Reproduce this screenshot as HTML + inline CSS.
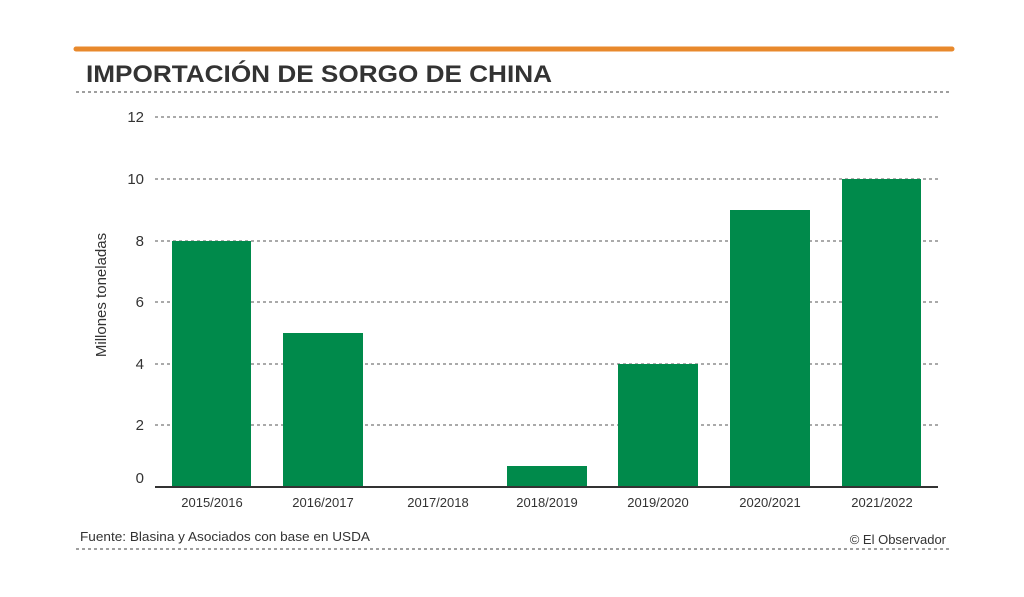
<!DOCTYPE html>
<html><head><meta charset="utf-8"><style>
body{margin:0;background:#fff;}
svg{display:block;}
text{font-family:"Liberation Sans",sans-serif;}
</style></head><body>
<svg width="1024" height="597" viewBox="0 0 1024 597">
<rect width="1024" height="597" fill="#fff"/>
<line x1="76" y1="49" x2="952" y2="49" stroke="#e8892c" stroke-width="5" stroke-linecap="round"/>
<text x="86" y="82" font-size="24" font-weight="bold" fill="#333" textLength="466" lengthAdjust="spacingAndGlyphs">IMPORTACIÓN DE SORGO DE CHINA</text>
<line x1="76" y1="92" x2="952" y2="92" stroke="#666" stroke-width="1.3" stroke-dasharray="3,3"/>
<g stroke="#777" stroke-width="1.2" stroke-dasharray="3,3">
<line x1="155" y1="117" x2="938" y2="117"/>
<line x1="155" y1="179" x2="938" y2="179"/>
<line x1="155" y1="241" x2="938" y2="241"/>
<line x1="155" y1="302" x2="938" y2="302"/>
<line x1="155" y1="364" x2="938" y2="364"/>
<line x1="155" y1="425" x2="938" y2="425"/>
</g>
<g font-size="15" fill="#333" text-anchor="end">
<text x="144" y="122">12</text>
<text x="144" y="184">10</text>
<text x="144" y="246">8</text>
<text x="144" y="307">6</text>
<text x="144" y="369">4</text>
<text x="144" y="430">2</text>
<text x="144" y="483">0</text>
</g>
<text transform="translate(106,295) rotate(-90)" font-size="15" fill="#333" text-anchor="middle">Millones toneladas</text>
<g fill="#008a4b">
<rect x="172" y="241" width="79" height="246"/>
<rect x="283" y="333" width="80" height="154"/>
<rect x="507" y="466" width="80" height="21"/>
<rect x="618" y="364" width="80" height="123"/>
<rect x="730" y="210" width="80" height="277"/>
<rect x="842" y="179" width="79" height="308"/>
</g>
<line x1="155" y1="487" x2="938" y2="487" stroke="#333" stroke-width="2"/>
<g font-size="13" fill="#333" text-anchor="middle">
<text x="212" y="507">2015/2016</text>
<text x="323" y="507">2016/2017</text>
<text x="438" y="507">2017/2018</text>
<text x="547" y="507">2018/2019</text>
<text x="658" y="507">2019/2020</text>
<text x="770" y="507">2020/2021</text>
<text x="882" y="507">2021/2022</text>
</g>
<text x="80" y="541" font-size="13" fill="#333" textLength="290" lengthAdjust="spacingAndGlyphs">Fuente: Blasina y Asociados con base en USDA</text>
<text x="946" y="544" font-size="13" fill="#333" text-anchor="end">© El Observador</text>
<line x1="76" y1="549" x2="952" y2="549" stroke="#666" stroke-width="1.3" stroke-dasharray="3,3"/>
</svg>
</body></html>
